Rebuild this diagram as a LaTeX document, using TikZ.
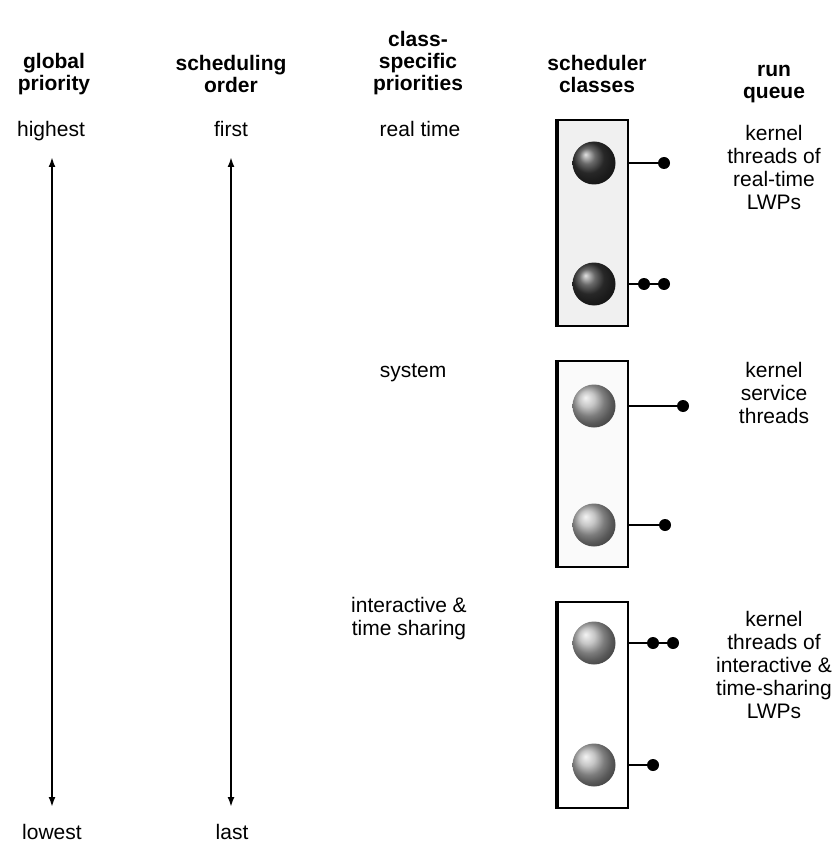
\documentclass[tikz,border=0pt]{standalone}
\usepackage{fontspec}
\setmainfont{Liberation Sans}
\usetikzlibrary{arrows.meta}
\begin{document}
\begin{tikzpicture}[x=1pt,y=-1pt,
  every node/.style={font=\fontsize{21}{23}\selectfont, align=center, inner sep=0pt},
  hdr/.style={font=\fontsize{21}{22}\selectfont\bfseries},
  lbl/.style={anchor=base},
  classbox/.style={draw, line width=2pt, minimum width=70pt, minimum height=206pt},
  darkball/.style={circle, minimum size=43pt, shade, ball color=black!78},
  lightball/.style={circle, minimum size=43pt, shade, ball color=gray!60},
  qdot/.style={circle, fill=black, minimum size=12pt},
  axis/.style={line width=2pt, {Latex[length=10pt,width=7pt]}-{Latex[length=10pt,width=7pt]}},
  link/.style={line width=1.6pt}]
\useasboundingbox (0,0) rectangle (838,842);

% headers
\node[hdr] (hgp) at (54,74) {global\\priority};
\node[hdr] (hso) at (231,74) {scheduling\\order};
\node[hdr] (hcs) at (418,63) {class-\\specific\\priorities};
\node[hdr] (hsc) at (597,74) {scheduler\\classes};
\node[hdr] (hrq) at (774,84) {run\\queue};

% row labels
\node[lbl] (lhi) at (51,137) {highest};
\node[lbl] (lfi) at (231,137) {first};
\node[lbl] (lrt) at (420,137) {real time};
\node[lbl] (llo) at (52,839) {lowest};
\node[lbl] (lla) at (232,839) {last};
\node[lbl] (lsy) at (413,377) {system};
\node (lit) at (409,619) {interactive \&\\time sharing};

% axes
\coordinate (gt) at (52,157);
\coordinate (gb) at (52,807);
\coordinate (st) at (231,157);
\coordinate (sb) at (231,807);
\draw[axis] (gt) -- (gb);
\draw[axis, line width=2.6pt] (st) -- (sb);

% scheduler class boxes
\node[classbox, fill=black!6] (box1) at (593,223) {};
\node[classbox, fill=black!2] (box2) at (593,464) {};
\node[classbox] (box3) at (593,704.5) {};
\foreach \b in {box1,box2,box3}{
  \draw[line width=3.5pt] (\b.north west) -- (\b.south west);
}

% balls
\node[darkball] (b11) at (594,163) {};
\node[darkball] (b12) at (594,284) {};
\node[lightball] (b21) at (594,406) {};
\node[lightball] (b22) at (594,525) {};
\node[lightball] (b31) at (594,643) {};
\node[lightball] (b32) at (594,765) {};

% run-queue dots
\node[qdot] (d11) at (664,163) {};
\node[qdot] (d12a) at (644,284) {};
\node[qdot] (d12b) at (664,284) {};
\node[qdot] (d21) at (683,406) {};
\node[qdot] (d22) at (665,525) {};
\node[qdot] (d31a) at (653,643) {};
\node[qdot] (d31b) at (673,643) {};
\node[qdot] (d32) at (653,765) {};

\draw[link] (b11 -| box1.east) -- (d11);
\draw[link] (b12 -| box1.east) -- (d12a) -- (d12b);
\draw[link] (b21 -| box2.east) -- (d21);
\draw[link] (b22 -| box2.east) -- (d22);
\draw[link] (b31 -| box3.east) -- (d31a) -- (d31b);
\draw[link] (b32 -| box3.east) -- (d32);

% run queue texts
\node (rq1) at (774,167) {kernel\\threads of\\real-time\\LWPs};
\node (rq2) at (774,393) {kernel\\service\\threads};
\node (rq3) at (774,665) {kernel\\threads of\\interactive \&\\time-sharing\\LWPs};
\end{tikzpicture}
\end{document}
